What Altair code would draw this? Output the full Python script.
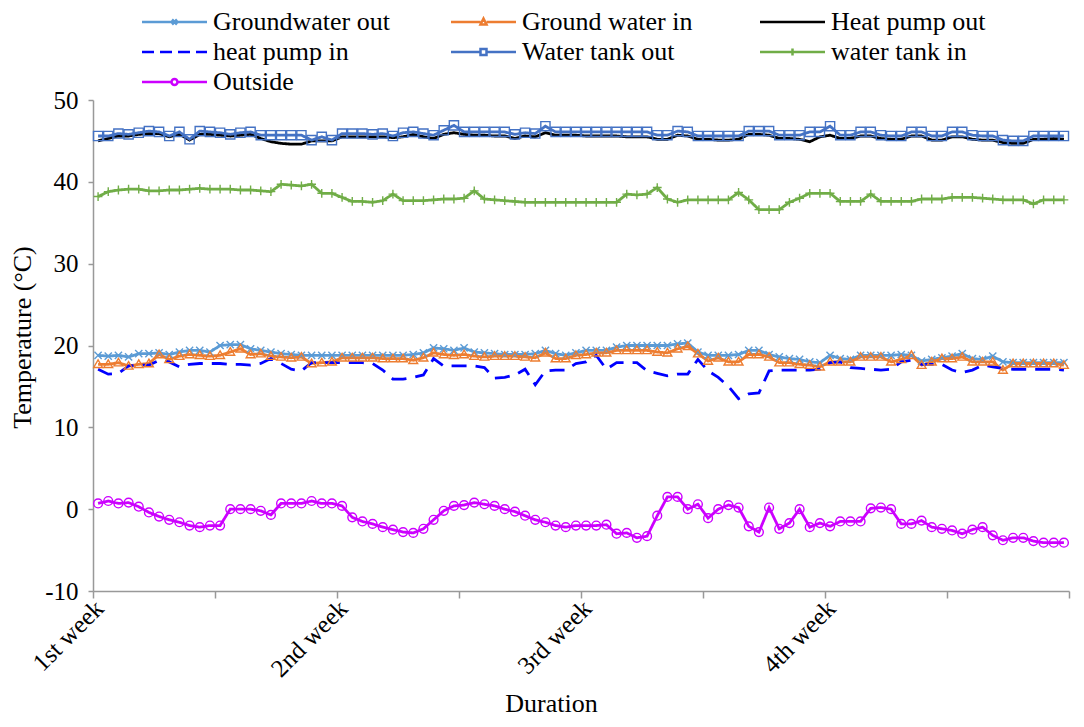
import altair as alt
import pandas as pd

# ---------------- data ----------------
series_names = ["Groundwater out", "Ground water in", "Heat pump out", "heat pump in",
                "Water tank out", "water tank in", "Outside"]
series_colors = ["#5B9BD5", "#ED7D31", "#000000", "#0000FF", "#4472C4", "#70AD47", "#CC00FF"]
week_labels = ["1st week", "2nd week", "3rd week", "4th week"]
points_per_week = 24
n_weeks = 4

groundwater_out = [
    18.8, 18.7, 18.8, 18.6, 19.0, 19.0, 19.1, 18.9, 19.2, 19.4, 19.4, 19.2, 20.0, 20.1, 20.1, 19.6,
    19.4, 19.2, 19.0, 18.9, 18.8, 18.8, 18.8, 18.8, 18.8, 18.8, 18.8, 18.8, 18.8, 18.8, 18.8, 18.9,
    19.1, 19.7, 19.6, 19.4, 19.7, 19.2, 19.1, 19.0, 18.9, 18.9, 18.9, 19.0, 19.4, 19.0, 18.8, 19.1,
    19.4, 19.4, 19.4, 19.8, 20.0, 20.0, 20.0, 20.0, 20.0, 20.2, 20.3, 19.2, 18.8, 18.8, 18.8, 18.9,
    19.4, 19.4, 18.9, 18.6, 18.4, 18.3, 18.0, 17.9, 18.8, 18.4, 18.3, 18.8, 18.8, 18.8, 18.8, 18.9,
    18.8, 18.1, 18.3, 18.5, 18.7, 19.0, 18.4, 18.3, 18.7, 18.0, 17.9, 17.9, 17.9, 17.9, 17.9, 17.9]

ground_water_in = [
    17.7, 17.7, 17.9, 17.5, 17.7, 17.8, 18.9, 18.3, 18.7, 18.9, 18.8, 18.7, 18.8, 19.2, 19.6, 18.9,
    19.0, 18.7, 18.6, 18.5, 18.6, 17.8, 17.9, 18.0, 18.5, 18.5, 18.5, 18.5, 18.4, 18.4, 18.4, 18.2,
    18.5, 19.1, 18.9, 18.8, 18.9, 18.7, 18.6, 18.7, 18.7, 18.7, 18.6, 18.5, 19.1, 18.4, 18.4, 18.8,
    18.9, 19.1, 19.1, 19.4, 19.4, 19.4, 19.4, 19.2, 19.1, 19.6, 19.9, 19.0, 18.1, 18.5, 18.0, 18.0,
    18.9, 18.9, 18.6, 17.9, 17.9, 17.7, 17.6, 17.4, 18.0, 18.0, 18.0, 18.6, 18.6, 18.6, 18.0, 18.3,
    18.8, 17.6, 18.0, 18.4, 18.4, 18.6, 18.0, 18.0, 18.0, 17.0, 17.8, 17.8, 17.8, 17.8, 17.8, 17.6]

heat_pump_out = [
    45.0, 45.3, 45.6, 45.6, 45.8, 45.9, 45.9, 45.5, 45.8, 45.1, 45.8, 45.8, 45.7, 45.6, 45.7, 45.8,
    45.3, 44.9, 44.7, 44.6, 44.6, 45.0, 45.0, 45.0, 45.5, 45.5, 45.5, 45.5, 45.5, 45.4, 45.5, 45.8,
    45.5, 45.3, 45.8, 46.0, 45.8, 45.7, 45.7, 45.6, 45.6, 45.3, 45.6, 45.5, 46.0, 45.7, 45.7, 45.7,
    45.6, 45.6, 45.6, 45.6, 45.5, 45.5, 45.5, 45.2, 45.2, 45.7, 45.6, 45.2, 45.2, 45.1, 45.1, 45.2,
    45.8, 45.8, 45.7, 45.3, 45.3, 45.2, 44.9, 45.5, 45.7, 45.3, 45.3, 45.6, 45.6, 45.3, 45.2, 45.2,
    45.6, 45.6, 45.1, 45.1, 45.5, 45.5, 45.2, 45.1, 45.1, 44.8, 44.7, 44.7, 45.2, 45.2, 45.3, 45.2]

heat_pump_in = [
    17.1, 16.5, 16.6, 17.5, 17.6, 17.6, 18.2, 18.0, 17.4, 17.7, 17.8, 17.8, 17.8, 17.7, 17.7, 17.6,
    17.8, 18.4, 17.8, 17.1, 16.9, 17.9, 17.9, 17.9, 17.9, 17.9, 17.9, 17.8, 17.0, 15.9, 15.9, 16.1,
    16.4, 18.4, 17.5, 17.5, 17.5, 17.5, 17.3, 16.0, 16.1, 16.4, 17.1, 15.2, 16.9, 17.0, 17.0, 17.8,
    18.0, 18.8, 17.1, 17.9, 17.9, 17.9, 16.9, 16.6, 16.3, 16.5, 16.5, 18.3, 16.9, 16.1, 15.0, 13.5,
    14.1, 14.2, 16.9, 17.0, 17.0, 17.0, 17.0, 17.1, 17.9, 18.0, 17.3, 17.2, 17.1, 17.0, 17.1, 18.0,
    18.2, 17.7, 17.7, 17.7, 17.0, 16.7, 17.0, 17.6, 17.4, 17.2, 17.1, 17.1, 17.1, 17.1, 17.1, 17.0]

water_tank_out = [
    45.6, 45.6, 45.9, 45.8, 46.0, 46.2, 46.1, 45.6, 46.1, 45.2, 46.2, 46.1, 46.0, 45.8, 46.0, 46.1,
    45.7, 45.7, 45.7, 45.7, 45.7, 45.1, 45.5, 45.1, 45.9, 45.9, 45.9, 45.8, 45.9, 45.6, 46.0, 46.1,
    45.9, 45.7, 46.3, 46.9, 46.1, 46.1, 46.1, 46.1, 46.1, 45.8, 46.0, 45.9, 46.8, 46.1, 46.1, 46.1,
    46.1, 46.1, 46.1, 46.1, 46.1, 46.1, 46.1, 45.7, 45.7, 46.2, 46.1, 45.6, 45.6, 45.6, 45.6, 45.6,
    46.2, 46.2, 46.2, 45.7, 45.7, 45.7, 46.1, 46.1, 46.8, 45.7, 45.7, 46.1, 46.1, 45.7, 45.6, 45.6,
    46.1, 46.1, 45.6, 45.6, 46.1, 46.1, 45.7, 45.6, 45.6, 45.1, 45.0, 45.0, 45.6, 45.6, 45.6, 45.6]

water_tank_in = [
    38.2, 38.8, 39.0, 39.1, 39.1, 38.9, 38.9, 39.0, 39.0, 39.1, 39.2, 39.1, 39.1, 39.1, 39.0, 39.0,
    38.9, 38.8, 39.7, 39.6, 39.5, 39.7, 38.6, 38.6, 38.1, 37.6, 37.6, 37.5, 37.7, 38.5, 37.7, 37.7,
    37.7, 37.8, 37.9, 37.9, 38.0, 38.9, 37.9, 37.8, 37.7, 37.6, 37.5, 37.5, 37.5, 37.5, 37.5, 37.5,
    37.5, 37.5, 37.5, 37.5, 38.5, 38.4, 38.5, 39.3, 37.9, 37.5, 37.8, 37.8, 37.8, 37.8, 37.8, 38.7,
    37.8, 36.6, 36.6, 36.6, 37.5, 38.0, 38.6, 38.6, 38.6, 37.6, 37.6, 37.6, 38.5, 37.6, 37.6, 37.6,
    37.6, 37.9, 37.9, 37.9, 38.1, 38.1, 38.1, 38.0, 37.9, 37.8, 37.8, 37.8, 37.3, 37.8, 37.8, 37.8]

outside = [
    0.7, 1.0, 0.7, 0.8, 0.3, -0.4, -0.9, -1.3, -1.6, -2.0, -2.2, -2.0, -2.0, 0.0, 0.0, 0.0,
    -0.2, -0.7, 0.7, 0.7, 0.7, 1.0, 0.7, 0.7, 0.4, -1.0, -1.5, -1.8, -2.2, -2.5, -2.8, -2.9,
    -2.4, -1.3, -0.2, 0.4, 0.5, 0.8, 0.6, 0.4, 0.0, -0.3, -0.8, -1.3, -1.6, -2.0, -2.2, -2.0,
    -2.0, -2.0, -1.9, -3.0, -2.9, -3.5, -3.3, -0.8, 1.5, 1.5, 0.0, 0.6, -1.1, 0.0, 0.5, 0.2,
    -2.1, -2.8, 0.2, -2.4, -1.7, 0.0, -2.2, -1.7, -2.1, -1.5, -1.5, -1.5, 0.1, 0.2, 0.0, -1.8,
    -1.8, -1.4, -2.2, -2.4, -2.6, -3.0, -2.5, -2.2, -3.2, -3.8, -3.5, -3.5, -3.9, -4.1, -4.1, -4.1]

series_values = [groundwater_out, ground_water_in, heat_pump_out, heat_pump_in,
                 water_tank_out, water_tank_in, outside]

# marker shapes on the plot (unit paths) and legend symbols (line + marker)
marker_series = ["Groundwater out", "Ground water in", "Water tank out", "water tank in", "Outside"]
marker_paths = [
    "M-0.9,-0.9L0.9,0.9M-0.9,0.9L0.9,-0.9",
    "M0,-1.1L1.1,0.8H-1.1Z",
    "M-1.15,-1.15H1.15V1.15H-1.15Z",
    "M0,-1.1V1.1M-1.1,0H1.1",
    "M1.1,0A1.1,1.1 0 1 1 -1.1,0A1.1,1.1 0 1 1 1.1,0",
]
legend_paths = [
    "M-1,0H12M5,-0.5L6,0.5M5,0.5L6,-0.5",
    "M-1,0H4.9M6.1,0H12M5.5,-0.7L6.1,0.5H4.9Z",
    "M-1,0H12",
    "M-1,0H1.4M2.6,0H5M6.2,0H8.6M9.8,0H12",
    "M-1,0H4.9M6.1,0H12M4.9,-0.6H6.1V0.6H4.9Z",
    "M-1,0H12M5.5,-0.7V0.7",
    "M-1,0H4.9M6.1,0H12M6.1,0A0.6,0.6 0 1 1 4.9,0A0.6,0.6 0 1 1 6.1,0",
]
dash_patterns = [[1, 0], [1, 0], [1, 0], [15, 9], [1, 0], [1, 0], [1, 0]]

rows = []
for name, vals in zip(series_names, series_values):
    for i, v in enumerate(vals):
        rows.append({"series": name, "x": i + 0.5, "temp": v})
df = pd.DataFrame(rows)

# ---------------- chart ----------------
FONT = "Liberation Serif"
n_total = points_per_week * n_weeks

label_expr = ""
for k, lab in enumerate(week_labels):
    label_expr += f"datum.value == {k * points_per_week} ? '{lab}' : "
label_expr += "''"

x_scale = alt.Scale(domain=[0, n_total], nice=False, zero=False)
y_scale = alt.Scale(domain=[-10, 50], nice=False)

x_axis = alt.Axis(
    values=list(range(0, n_total + 1, points_per_week // 2)),
    labelExpr=label_expr, labelAngle=-45, labelAlign="right", labelBaseline="middle",
    labelPadding=6, labelOffset=6, labelFlush=False, labelOverlap=False,
    labelFont=FONT, labelFontSize=25, labelColor="black",
    tickSize=7, tickColor="#999999", tickWidth=1.5,
    domainColor="#999999", domainWidth=1.5, grid=False,
    title="Duration", titleFont=FONT, titleFontSize=26, titleFontWeight="normal",
    titleColor="black", titleX=458, titleY=120, titleBaseline="alphabetic", titleAlign="center",
)
y_axis = alt.Axis(
    values=list(range(-10, 51, 10)),
    labelExpr="datum.value < 0 ? '-' + abs(datum.value) : '' + datum.value",
    labelFont=FONT, labelFontSize=25, labelColor="black",
    labelPadding=10, labelFlush=False, tickSize=5, tickColor="#999999", tickWidth=1.5,
    domainColor="#999999", domainWidth=1.5, grid=False,
    title="Temperature (°C)", titleFont=FONT, titleFontSize=26, titleFontWeight="normal",
    titleColor="black", titleX=-71, titleY=237, titleAngle=-90, titleBaseline="middle",
    titleAlign="center",
)

color_scale = alt.Scale(domain=series_names, range=series_colors)
X = alt.X("x:Q", scale=x_scale, axis=x_axis)
Y = alt.Y("temp:Q", scale=y_scale, axis=y_axis)

lines = alt.Chart(df).mark_line(strokeWidth=2.8).encode(
    x=X, y=Y,
    color=alt.Color("series:N", scale=color_scale, legend=None),
    strokeDash=alt.StrokeDash("series:N", scale=alt.Scale(domain=series_names, range=dash_patterns),
                              legend=None),
    detail="series:N",
)

points = alt.Chart(df).transform_filter(
    alt.FieldOneOfPredicate(field="series", oneOf=marker_series)
).mark_point(filled=False, size=64, strokeWidth=1.4, opacity=1).encode(
    x=X, y=Y,
    color=alt.Color("series:N", scale=color_scale, legend=None),
    shape=alt.Shape("series:N", scale=alt.Scale(domain=marker_series, range=marker_paths), legend=None),
)

legend_def = alt.Legend(
    title=None, orient="none", direction="horizontal", legendX=41, legendY=-91, columns=3,
    gridAlign="all", columnPadding=53, rowPadding=4, padding=0, symbolSize=100,
    symbolStrokeWidth=2.5, symbolFillColor="white",
    labelOffset=53, labelFont=FONT, labelFontSize=26, labelColor="black", labelLimit=400,
)

legend_layer = alt.Chart(df).transform_filter("datum.x < 0").mark_point(
    filled=False, size=100, strokeWidth=2.5, opacity=1
).encode(
    x=X, y=Y,
    color=alt.Color("series:N", scale=color_scale, legend=legend_def),
    shape=alt.Shape("series:N", scale=alt.Scale(domain=series_names, range=legend_paths),
                    legend=legend_def),
)

chart = alt.layer(lines, points, legend_layer).resolve_scale(
    color="independent", shape="independent"
).properties(
    width=976, height=491,
    autosize=alt.AutoSizeParams(type="none"),
    padding={"left": 85, "top": 92, "right": 7, "bottom": 128},
    background="white",
).configure_view(strokeWidth=0)

chart.save("out.html", embed_options={"renderer": "svg", "actions": False})
